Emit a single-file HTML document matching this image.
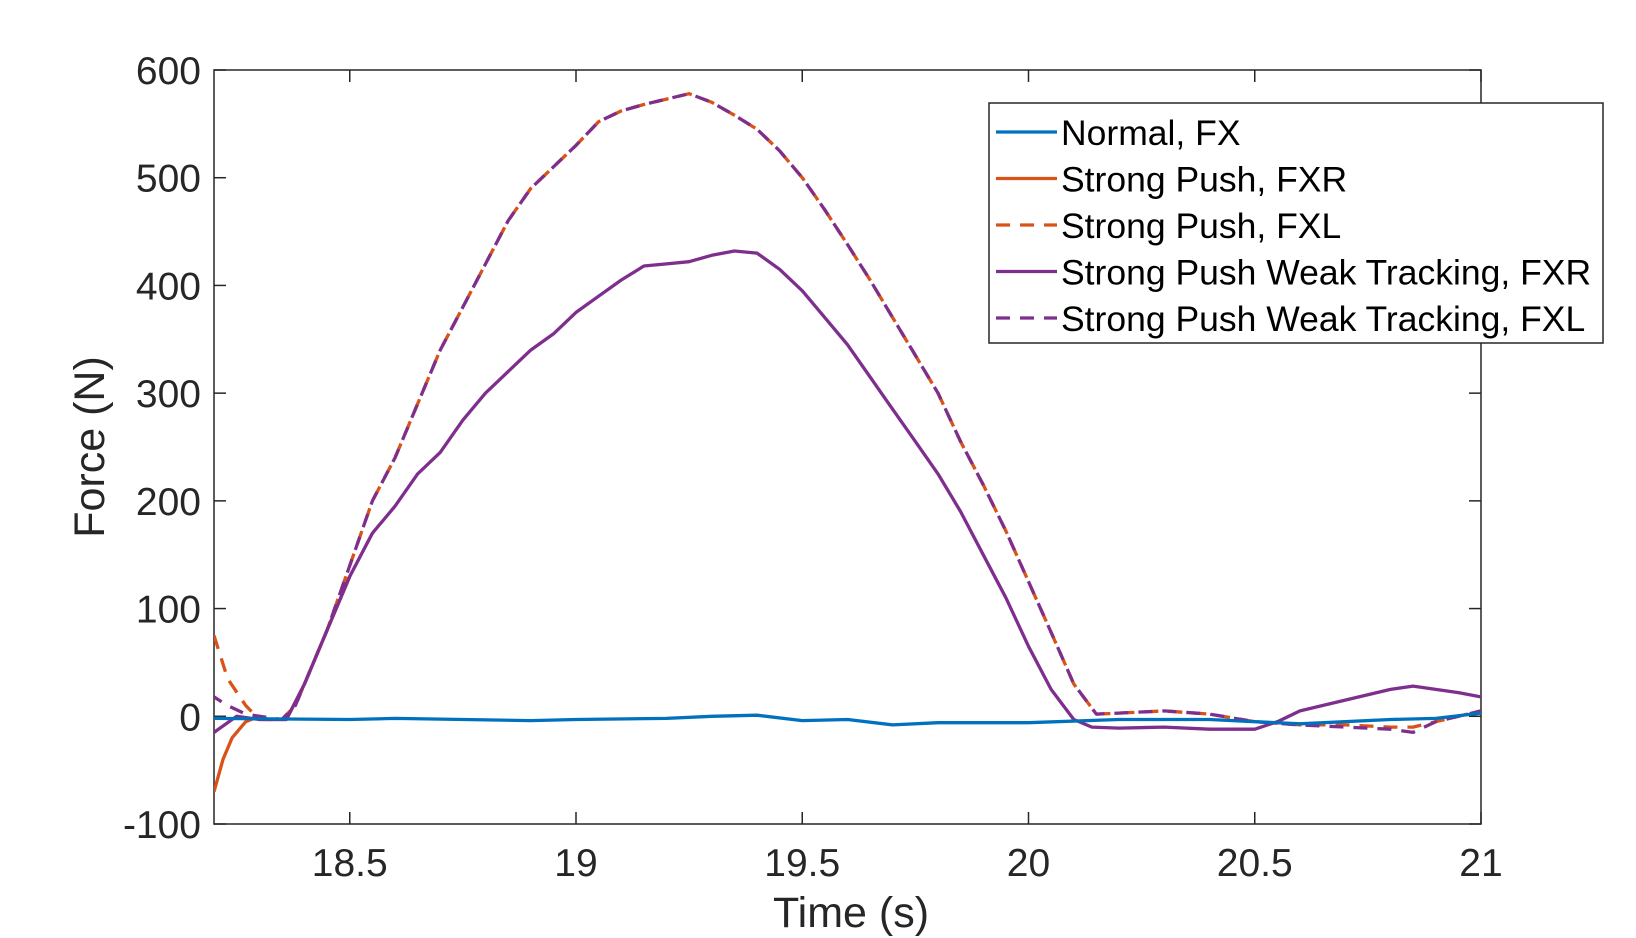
<!DOCTYPE html>
<html><head><meta charset="utf-8"><style>
body{margin:0;background:#fff}
svg{display:block;font-family:"Liberation Sans",sans-serif}
</style></head><body>
<svg id="chart" width="1636" height="938" viewBox="0 0 1636 938">
<rect width="1636" height="938" fill="#fff"/>
<g id="plot"></g>
</svg>
<script>
const xTicks=[18.5,19,19.5,20,20.5,21];
const xTickLabels=["18.5","19","19.5","20","20.5","21"];
const yTicks=[-100,0,100,200,300,400,500,600];
const yTickLabels=["-100","0","100","200","300","400","500","600"];
const normalT=[18.2,18.5,18.6,18.9,19.0,19.2,19.3,19.4,19.5,19.6,19.7,19.8,20.0,20.2,20.4,20.5,20.6,20.8,20.9,21];
const normalV=[-2,-3,-2,-4,-3,-2,0,1,-4,-3,-8,-6,-6,-3,-3,-5,-7,-3,-2,3];
const spFxrT=[18.2,18.22,18.24,18.27,18.3,18.32,18.36,18.4,18.45,18.5];
const spFxrV=[-70,-40,-20,-5,0,-3,-3,30,80,130];
const dashT=[18.2,18.23,18.27,18.3,18.35,18.38,18.45,18.5,18.55,18.6,18.65,18.7,18.75,18.8,18.85,18.9,18.95,19.0,19.05,19.1,19.15,19.2,19.25,19.3,19.35,19.4,19.45,19.5,19.55,19.6,19.65,19.7,19.75,19.8,19.85,19.9,19.95,20.0,20.05,20.1,20.15,20.2,20.3,20.4,20.5,20.6,20.7,20.8,20.85,20.9,21];
const spFxlV=[75,35,10,-3,-3,10,80,140,200,240,290,340,380,420,460,490,510,530,552,562,568,573,578,570,558,545,525,500,470,438,405,370,335,300,255,215,172,125,78,30,2,3,5,2,-5,-8,-8,-10,-10,-5,5];
const wtFxlV=[18,10,2,0,-3,10,80,140,200,240,290,340,380,420,460,490,510,530,552,562,568,573,578,570,558,545,525,500,470,438,405,370,335,300,255,215,172,125,78,30,2,3,5,2,-5,-8,-10,-12,-15,-5,5];
const wtFxrT=[18.2,18.25,18.3,18.36,18.4,18.45,18.5,18.55,18.6,18.65,18.7,18.75,18.8,18.85,18.9,18.95,19.0,19.05,19.1,19.15,19.2,19.25,19.3,19.35,19.4,19.45,19.5,19.55,19.6,19.65,19.7,19.75,19.8,19.85,19.9,19.95,20.0,20.05,20.1,20.14,20.2,20.3,20.4,20.5,20.55,20.6,20.7,20.8,20.85,20.9,20.95,21];
const wtFxrV=[-15,0,-3,-3,30,80,130,170,195,225,245,275,300,320,340,355,375,390,405,418,420,422,428,432,430,415,395,370,345,315,285,255,225,190,150,110,65,25,-3,-10,-11,-10,-12,-12,-5,5,15,25,28,25,22,18];

const L=214,R=1481,T=70,B=824,X0=18.2,X1=21,Y0=-100,Y1=600;
const sx=v=>L+(v-X0)/(X1-X0)*(R-L);
const sy=v=>B-(v-Y0)/(Y1-Y0)*(B-T);
const NS="http://www.w3.org/2000/svg";
const g=document.getElementById('plot');
function mk(tag,attrs,parent){const e=document.createElementNS(NS,tag);for(const k in attrs)e.setAttribute(k,attrs[k]);(parent||g).appendChild(e);return e;}

const defs=mk('defs',{});
const cp=mk('clipPath',{id:'clip'},defs);
mk('rect',{x:L,y:T,width:R-L,height:B-T},cp);

const box=mk('rect',{x:L,y:T,width:R-L,height:B-T,fill:'none',stroke:'#262626','stroke-width':1.5});



xTicks.forEach((v,i)=>{
  const x=sx(v);
  mk('line',{x1:x,x2:x,y1:B,y2:B-12,stroke:'#262626','stroke-width':1.5});
  mk('line',{x1:x,x2:x,y1:T,y2:T+12,stroke:'#262626','stroke-width':1.5});
  const t=mk('text',{x:x,y:876,'text-anchor':'middle','font-size':39,fill:'#262626'});
  t.textContent=xTickLabels[i];
  
  
});
yTicks.forEach((v,i)=>{
  const y=sy(v);
  mk('line',{x1:L,x2:L+12,y1:y,y2:y,stroke:'#262626','stroke-width':1.5});
  mk('line',{x1:R,x2:R-12,y1:y,y2:y,stroke:'#262626','stroke-width':1.5});
  const t=mk('text',{x:201,y:y+14,'text-anchor':'end','font-size':39,fill:'#262626'});
  t.textContent=yTickLabels[i];
  
  
});
const xl=mk('text',{x:851,y:927,'text-anchor':'middle','font-size':43,fill:'#262626'});
xl.textContent='Time (s)';


const yl=mk('text',{x:0,y:0,'text-anchor':'middle','font-size':43,fill:'#262626',transform:'translate(104,447) rotate(-90)'});
yl.textContent='Force (N)';



function line(ts,vs,color,dash,name,off){
  const d=ts.map((t,i)=>(i?'L':'M')+sx(t).toFixed(1)+','+sy(vs[i]).toFixed(1)).join(' ');
  const p=mk('path',{d:d,fill:'none',stroke:color,'stroke-width':3.3,'clip-path':'url(#clip)','stroke-linejoin':'round'});
  if(dash){p.setAttribute('stroke-dasharray','14,10');p.setAttribute('stroke-dashoffset',off||0);}
  
  
}
const BLUE='#0072bd',ORANGE='#d95319',PURPLE='#7e2f8e';
line(spFxrT,spFxrV,ORANGE,false,'strong-push-fxr-line');
line(dashT,spFxlV,ORANGE,true,'strong-push-fxl-line',0);
line(wtFxrT,wtFxrV,PURPLE,false,'weak-tracking-fxr-line');
line(dashT,wtFxlV,PURPLE,true,'weak-tracking-fxl-line',5);
line(normalT,normalV,BLUE,false,'normal-fx-line');

const lg=mk('g',{});


mk('rect',{x:989,y:103,width:614,height:240,fill:'#fff',stroke:'#262626','stroke-width':1.5},lg);
const entries=[['Normal, FX',BLUE,false],['Strong Push, FXR',ORANGE,false],['Strong Push, FXL',ORANGE,true],['Strong Push Weak Tracking, FXR',PURPLE,false],['Strong Push Weak Tracking, FXL',PURPLE,true]];
entries.forEach((e,i)=>{
  const y=132+i*46.5;
  const ln=mk('line',{x1:996,x2:1057,y1:y,y2:y,stroke:e[1],'stroke-width':3.3},lg);
  if(e[2])ln.setAttribute('stroke-dasharray','14,10');
  const t=mk('text',{x:1061,y:y+13,'font-size':35.5,fill:'#000'},lg);
  t.textContent=e[0];
  
  
});
</script>
</body></html>
